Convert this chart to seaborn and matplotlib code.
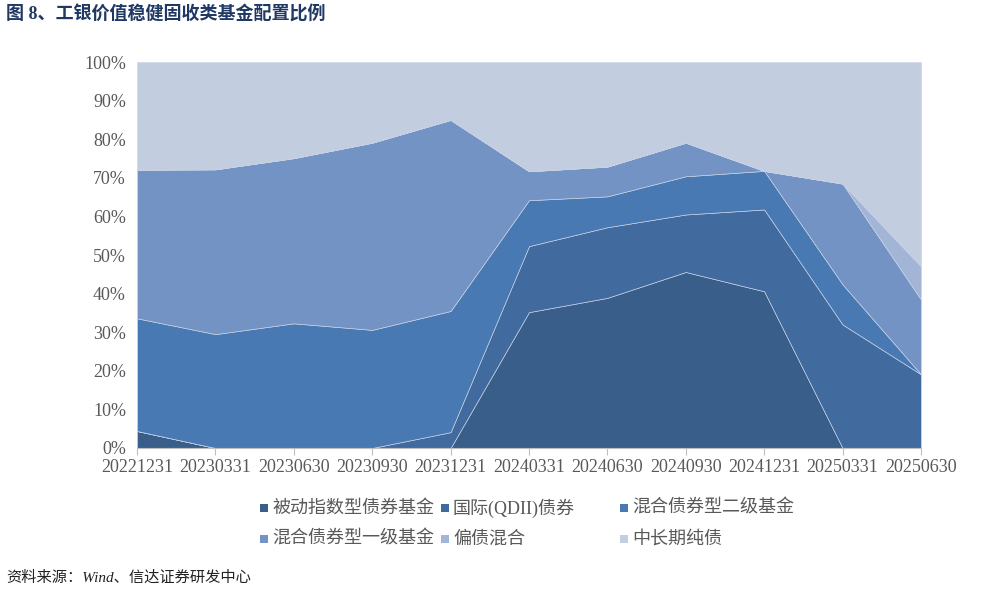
import matplotlib
matplotlib.use("Agg")
import matplotlib.pyplot as plt
from matplotlib.patches import Rectangle
from matplotlib.ticker import PercentFormatter
import seaborn as sns

# 报告期
dates = ["20221231", "20230331", "20230630", "20230930", "20231231", "20240331",
         "20240630", "20240930", "20241231", "20250331", "20250630"]

# 各类基金配置比例 (%)
passive_index = [4.4, 0, 0, 0, 0, 35.2, 38.9, 45.6, 40.6, 0, 0]
qdii_bond = [0, 0, 0, 0, 4.1, 17.1, 18.3, 14.9, 21.2, 32.0, 19.1]
mixed_bond_2 = [29.2, 29.5, 32.3, 30.6, 31.4, 11.9, 8.0, 9.9, 10.0, 10.4, 0]
mixed_bond_1 = [38.5, 42.7, 42.8, 48.5, 49.5, 7.5, 7.7, 8.7, 0, 26.1, 19.4]
bond_mixed = [0, 0, 0, 0, 0, 0, 0, 0, 0, 0, 8.6]
mid_long_bond = [27.9, 27.8, 24.9, 20.9, 15.0, 28.3, 27.1, 20.9, 28.2, 31.5, 52.9]

labels = ["被动指数型债券基金", "国际(QDII)债券", "混合债券型二级基金",
          "混合债券型一级基金", "偏债混合", "中长期纯债"]
colors = ["#3A5E8A", "#416B9F", "#4879B2", "#7293C4", "#A2B5D6", "#C3CDE0"]

W, H = 986, 591

sns.set_theme(style="white")
plt.rcParams["font.family"] = ["Liberation Serif", "Noto Sans CJK SC"]

fig = plt.figure(figsize=(W / 100, H / 100), dpi=100)
ax = fig.add_axes([0.139, 0.242, 0.795, 0.653])

x = list(range(len(dates)))
series = [passive_index, qdii_bond, mixed_bond_2, mixed_bond_1, bond_mixed, mid_long_bond]
ax.stackplot(x, *series, colors=colors, edgecolor="#C9D3E6", linewidth=0.45)

ax.set_xlim(0, len(dates) - 1)
ax.set_ylim(0, 100)
ax.set_xticks(x)
ax.set_xticklabels(dates, fontsize=13, color="#595959")
ax.set_yticks(range(0, 101, 10))
ax.yaxis.set_major_formatter(PercentFormatter(decimals=0))
ax.tick_params(axis="y", labelsize=13, labelcolor="#595959", length=0, pad=8)
ax.tick_params(axis="x", length=5, width=0.8, color="#BFBFBF", pad=3, bottom=True)

for side in ["left", "right", "top"]:
    ax.spines[side].set_visible(False)
ax.spines["bottom"].set_color("#BFBFBF")
ax.spines["bottom"].set_linewidth(0.8)

# 图例：三列等宽，逐行排列（像素位置）
col_px = [260, 441, 620]
row_px = [508, 539]
sq = 8
for i, (lab, c) in enumerate(zip(labels, colors)):
    px = col_px[i % 3]
    py = row_px[i // 3]
    fig.patches.append(Rectangle((px / W, (H - py - sq / 2) / H), sq / W, sq / H,
                                 facecolor=c, edgecolor="none",
                                 transform=fig.transFigure, figure=fig))
    fig.text((px + sq + 4) / W, (H - py) / H, lab, fontsize=13, color="#595959",
             va="center", ha="left")

fig.text(0.006, (H - 15) / H, "图 8、工银价值稳健固收类基金配置比例", fontsize=13,
         fontweight="bold", color="#1F3864", va="center")
fig.text(0.006, (H - 578) / H, "资料来源：Wind、信达证券研发中心", fontsize=11,
         style="italic", color="#222222", va="center")

fig.savefig("out.png", dpi=100)
